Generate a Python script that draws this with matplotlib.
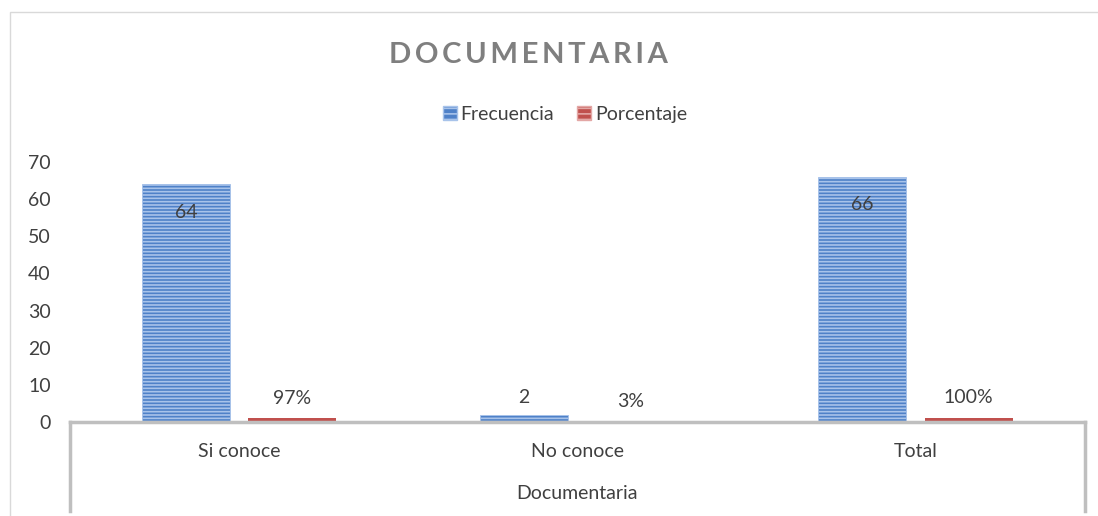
''' documentaria chart '''
import numpy as np
import matplotlib.pyplot as plt
from matplotlib.patches import Patch, Rectangle
from matplotlib.lines import Line2D

CATEGORIES = ["Si conoce", "No conoce", "Total"]
FRECUENCIA = [64, 2, 66]
PORCENTAJE = [0.97, 0.03, 1.00]
PCT_LABELS = ["97%", "3%", "100%"]
GROUP_LABEL = "Documentaria"
TITLE = "DOCUMENTARIA"

plt.rcParams['font.family'] = ['Lato', 'DejaVu Sans']
plt.rcParams['hatch.linewidth'] = 1.2

BLUE = '#4f81c8'
BLUE_H = '#a8c3ea'
RED = '#c0504d'
RED_H = '#e3a7a5'
TXT = '#404040'
GRAY = '#bfbfbf'
FS = 14


def main():
    '''main function'''
    fig = plt.figure(figsize=(10.98, 5.16), dpi=100)
    ax = fig.add_axes([0.0638, 0.182, 0.924, 0.504])
    x = np.arange(len(CATEGORIES))
    w = 0.26
    off = 0.157
    b1 = ax.bar(x - off, FRECUENCIA, w, color=BLUE, edgecolor=BLUE_H,
                hatch='-----', linewidth=0.6)
    b2 = ax.bar(x + off, PORCENTAJE, w, color=RED, linewidth=0)
    for rect, v in zip(b1, FRECUENCIA):
        cx = rect.get_x() + rect.get_width() / 2
        if v > 10:
            ax.text(cx, v - 5.2, str(v), ha='center', va='top', fontsize=FS, color=TXT)
        else:
            ax.text(cx, v + 2.2, str(v), ha='center', va='bottom', fontsize=FS, color=TXT)
    for rect, v, lab in zip(b2, PORCENTAJE, PCT_LABELS):
        cx = rect.get_x() + rect.get_width() / 2
        ax.text(cx, v + 3.2, lab, ha='center', va='bottom', fontsize=FS, color=TXT)

    ax.set_xlim(-0.5, len(CATEGORIES) - 0.5)
    ax.set_ylim(0, 70)
    ax.set_yticks(range(0, 71, 10))
    ax.set_xticks([])
    ax.tick_params(axis='y', length=0, labelsize=FS, labelcolor=TXT, pad=14)
    for s in ['top', 'right', 'left']:
        ax.spines[s].set_visible(False)
    ax.spines['bottom'].set_color(GRAY)
    ax.spines['bottom'].set_linewidth(2.5)

    # category box under the axis
    trans = ax.get_xaxis_transform()
    for xx in [-0.5, len(CATEGORIES) - 0.5]:
        ax.add_line(Line2D([xx, xx], [0, -0.34], transform=trans, color=GRAY,
                           lw=2.5, clip_on=False))
    for i, c in enumerate(CATEGORIES):
        ax.text(i, -0.112, c, transform=trans, ha='center', va='center',
                fontsize=FS, color=TXT)
    ax.text(1, -0.275, GROUP_LABEL, transform=trans, ha='center', va='center',
            fontsize=FS, color=TXT)

    fig.text(0.481, 0.893, '\u2009'.join(TITLE), ha='center', va='center',
             fontsize=21, fontweight='bold', color='#7f7f7f')
    handles = [Patch(facecolor=BLUE, edgecolor=BLUE_H, hatch='---', label='Frecuencia'),
               Patch(facecolor=RED, edgecolor=RED_H, hatch='---', label='Porcentaje')]
    fig.legend(handles=handles, loc='center', bbox_to_anchor=(0.5146, 0.779), ncol=2,
               frameon=False, fontsize=FS, handlelength=0.7, handleheight=0.7,
               handletextpad=0.2, columnspacing=1.2, labelcolor=TXT)

    fig.add_artist(Rectangle((10 / 1098, -0.1), 1.2, 1 - 12 / 516 + 0.1,
                             transform=fig.transFigure, fill=False,
                             edgecolor='#d9d9d9', lw=1))
    fig.savefig('out.png', dpi=100)


if __name__ == "__main__":
    main()
